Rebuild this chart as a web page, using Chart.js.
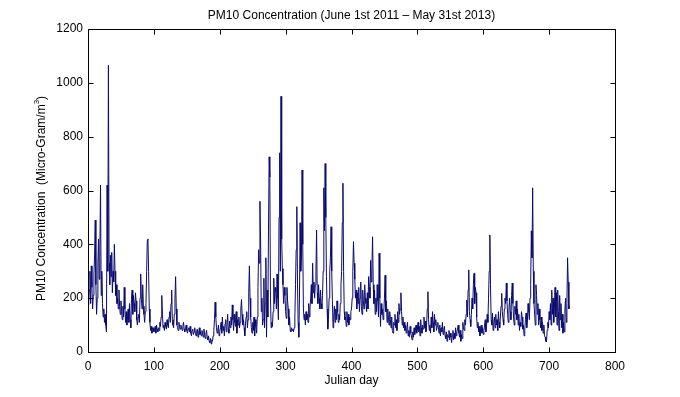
<!DOCTYPE html>
<html>
<head>
<meta charset="utf-8">
<script src="https://cdn.jsdelivr.net/npm/chart.js@4/dist/chart.umd.min.js"></script>
<style>
  html, body { margin: 0; padding: 0; background: #fff; }
  canvas { display: block; }
</style>
</head>
<body>
<canvas id="pmChart" width="680" height="397"></canvas>
<script>
// Daily PM10 values, day 1 = June 1st 2011
const pm10Values = [
  175, 230, 300, 180, 320, 240, 160, 210, 290, 360,
  490, 250, 140, 200, 330, 420, 270, 380, 620, 210,
  300, 180, 130, 160, 110, 140, 100, 75, 620, 300,
  1065, 330, 250, 360, 280, 370, 220, 300, 260, 400,
  300, 210, 250, 180, 200, 160, 230, 170, 140, 190,
  150, 120, 170, 130, 240, 160, 110, 150, 100, 130,
  160, 110, 180, 120, 90, 200, 230, 140, 210, 180,
  150, 220, 190, 120, 100, 130, 140, 110, 200, 290,
  200, 160, 250, 170, 140, 110, 150, 180, 300, 415,
  420, 300, 160, 110, 80, 95, 70, 85, 90, 75,
  80, 95, 70, 100, 85, 75, 90, 80, 110, 95,
  130, 210, 140, 90, 100, 80, 110, 95, 85, 120,
  100, 90, 130, 150, 110, 180, 230, 120, 100, 90,
  140, 200, 280, 160, 100, 90, 80, 110, 95, 85,
  100, 90, 80, 95, 110, 85, 75, 90, 100, 80,
  70, 85, 90, 75, 95, 70, 60, 80, 85, 65,
  75, 90, 70, 60, 80, 85, 55, 70, 90, 65,
  75, 60, 80, 70, 55, 85, 65, 50, 70, 80,
  55, 45, 60, 40, 35, 50, 30, 45, 40, 60,
  80, 120, 185, 130, 90, 70, 80, 100, 60, 75,
  90, 110, 70, 130, 80, 95, 60, 105, 120, 75,
  100, 140, 85, 70, 115, 90, 130, 100, 175, 120,
  80, 140, 110, 95, 150, 70, 120, 100, 130, 90,
  110, 160, 195, 140, 100, 120, 90, 60, 100, 130,
  150, 90, 120, 220, 320, 200, 130, 90, 70, 110,
  80, 130, 60, 120, 95, 70, 130, 240, 380, 330,
  560, 420, 150, 200, 100, 120, 274, 90, 180, 350,
  55, 230, 130, 450, 725, 650, 200, 90, 110, 95,
  150, 274, 180, 240, 225, 160, 290, 200, 120, 500,
  740, 300, 950, 420, 310, 250, 180, 240, 210, 150,
  125, 240, 190, 160, 100, 130, 80, 75, 90, 80,
  85, 75, 90, 130, 250, 380, 540, 260, 110, 55,
  200, 480, 300, 350, 676, 400, 160, 120, 140, 100,
  150, 120, 140, 110, 180, 130, 160, 200, 250, 180,
  330, 220, 260, 200, 250, 300, 453, 220, 180, 250,
  200, 160, 230, 180, 160, 210, 300, 610, 450, 700,
  500, 280, 160, 85, 120, 200, 300, 350, 465, 300,
  190, 90, 130, 170, 110, 160, 120, 190, 150, 110,
  140, 120, 180, 250, 300, 480, 627, 300, 150, 120,
  130, 95, 150, 110, 140, 100, 130, 120, 150, 160,
  200, 300, 410, 330, 270, 200, 230, 160, 220, 180,
  240, 150, 200, 260, 170, 140, 230, 190, 160, 250,
  200, 180, 150, 220, 160, 280, 240, 200, 340, 260,
  320, 428, 250, 180, 230, 140, 200, 150, 250, 190,
  130, 367, 200, 95, 180, 140, 160, 120, 150, 200,
  285, 150, 190, 110, 160, 130, 100, 150, 120, 90,
  130, 80, 70, 110, 100, 140, 90, 120, 80, 150,
  110, 180, 140, 160, 220, 150, 100, 130, 90, 110,
  80, 100, 70, 90, 110, 60, 80, 55, 95, 70,
  60, 45, 75, 55, 90, 65, 80, 100, 70, 85,
  110, 75, 95, 60, 120, 90, 70, 100, 85, 130,
  90, 115, 75, 100, 160, 224, 120, 80, 100, 70,
  130, 90, 150, 110, 75, 140, 100, 120, 80, 95,
  110, 85, 70, 100, 60, 90, 75, 110, 65, 80,
  95, 60, 50, 75, 40, 65, 55, 80, 45, 70,
  55, 35, 60, 80, 45, 70, 50, 90, 60, 75,
  85, 100, 70, 55, 80, 40, 65, 50, 110, 90,
  80, 120, 100, 140, 193, 130, 230, 305, 150, 120,
  95, 140, 200, 160, 250, 292, 180, 240, 220, 130,
  90, 110, 75, 95, 60, 85, 100, 70, 90, 65,
  80, 100, 120, 75, 95, 140, 110, 200, 300, 435,
  250, 120, 100, 145, 80, 110, 130, 90, 140, 100,
  120, 80, 150, 110, 90, 130, 170, 218, 150, 120,
  100, 160, 200, 180, 256, 190, 140, 110, 160, 200,
  150, 120, 210, 256, 180, 130, 100, 170, 140, 190,
  120, 160, 100, 140, 80, 110, 95, 150, 130, 85,
  100, 60, 80, 120, 145, 90, 110, 180, 150, 120,
  200, 250, 450, 350, 610, 300, 180, 140, 100, 250,
  210, 140, 180, 100, 160, 120, 90, 130, 80, 110,
  70, 100, 60, 55, 40, 37, 80, 110, 90, 150,
  120, 180, 100, 230, 140, 200, 110, 160, 240, 130,
  220, 100, 230, 150, 80, 210, 120, 180, 90, 140,
  70, 110, 75, 160, 200, 110, 180, 350, 260, 160,
  170
];
const xTicks = [0, 100, 200, 300, 400, 500, 600, 700, 800];
const yTicks = [0, 200, 400, 600, 800, 1000, 1200];

const chartTitle = 'PM10 Concentration (June 1st 2011 \u2013 May 31st 2013)';
const xLabel = 'Julian day';
const yLabel = 'PM10 Concentration  (Micro-Gram/m';

const FONT = '"Liberation Sans", Arial, sans-serif';

// matlab style box, inward ticks and labels
const matlabAxes = {
  id: 'matlabAxes',
  afterDraw(chart) {
    const ctx = chart.ctx;
    const a = chart.chartArea;
    const xs = chart.scales.x, ys = chart.scales.y;
    const L = Math.round(a.left) + 0.5, R = Math.round(a.right) + 0.5;
    const T = Math.round(a.top) + 0.5, B = Math.round(a.bottom) + 0.5;
    ctx.save();
    ctx.strokeStyle = '#000';
    ctx.lineWidth = 1;
    ctx.beginPath();
    ctx.rect(L, T, R - L, B - T);
    xTicks.forEach(v => {
      const px = Math.round(xs.getPixelForValue(v)) + 0.5;
      ctx.moveTo(px, B); ctx.lineTo(px, B - 5);
      ctx.moveTo(px, T); ctx.lineTo(px, T + 5);
    });
    yTicks.forEach(v => {
      const py = Math.round(ys.getPixelForValue(v)) + 0.5;
      ctx.moveTo(L, py); ctx.lineTo(L + 5, py);
      ctx.moveTo(R, py); ctx.lineTo(R - 5, py);
    });
    ctx.stroke();

    const cx = (a.left + a.right) / 2;
    ctx.fillStyle = '#000';
    ctx.textAlign = 'center';
    ctx.textBaseline = 'middle';
    ctx.font = '12px ' + FONT;
    ctx.fillText(chartTitle, cx, a.top - 13);
    ctx.fillText(xLabel, cx, a.bottom + 29);

    // rotated y label with superscript 3
    ctx.translate(a.left - 46, (a.top + a.bottom) / 2 + 8);
    ctx.rotate(-Math.PI / 2);
    const w1 = ctx.measureText(yLabel).width;
    ctx.font = '8px ' + FONT;
    const w2 = ctx.measureText('3').width;
    ctx.font = '12px ' + FONT;
    const w3 = ctx.measureText(')').width;
    let x0 = -(w1 + w2 + w3) / 2;
    ctx.textAlign = 'left';
    ctx.fillText(yLabel, x0, 0);
    ctx.font = '8px ' + FONT;
    ctx.fillText('3', x0 + w1, -5);
    ctx.font = '12px ' + FONT;
    ctx.fillText(')', x0 + w1 + w2, 0);
    ctx.restore();
  }
};

new Chart(document.getElementById('pmChart'), {
  type: 'line',
  data: {
    datasets: [{
      data: pm10Values.map((v, i) => ({ x: i + 1, y: v })),
      borderColor: '#0b0b6e',
      borderWidth: 1,
      pointRadius: 0,
      tension: 0,
      fill: false
    }]
  },
  options: {
    responsive: false,
    devicePixelRatio: 1,
    animation: false,
    layout: { padding: { top: 29, right: 65, left: 0, bottom: 0 } },
    plugins: { legend: { display: false }, title: { display: false }, tooltip: { enabled: false } },
    scales: {
      x: {
        type: 'linear',
        min: 0, max: 800,
        afterFit: s => { s.height = 45; },
        afterBuildTicks: s => { s.ticks = xTicks.map(v => ({ value: v })); },
        grid: { display: false, drawTicks: false },
        border: { display: false },
        ticks: { color: '#000', font: { family: FONT, size: 12 }, padding: 7, maxRotation: 0,
                 callback: v => String(v) }
      },
      y: {
        type: 'linear',
        min: 0, max: 1200,
        afterFit: s => { s.width = 88; },
        afterBuildTicks: s => { s.ticks = yTicks.map(v => ({ value: v })); },
        grid: { display: false, drawTicks: false },
        border: { display: false },
        ticks: { color: '#000', font: { family: FONT, size: 12 }, padding: 5,
                 callback: v => String(v) }
      }
    }
  },
  plugins: [matlabAxes]
});
</script>
</body>
</html>
